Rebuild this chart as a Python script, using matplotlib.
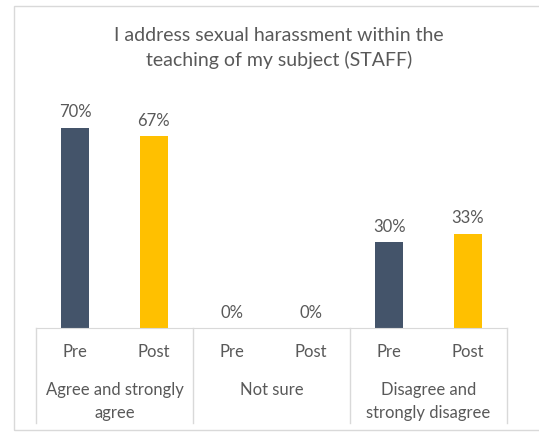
import matplotlib
matplotlib.use("Agg")
import matplotlib.pyplot as plt
from matplotlib.patches import Rectangle
from matplotlib.lines import Line2D
import matplotlib.transforms as mtransforms

# Survey responses, grouped by answer, split into pre/post
groups = ["Agree and strongly\nagree", "Not sure", "Disagree and\nstrongly disagree"]
phases = ["Pre", "Post"]
pre_vals = [0.70, 0.00, 0.30]
post_vals = [0.67, 0.00, 0.33]

TEXT = "#595959"
GRID = "#D9D9D9"
PRE_COLOR = "#44546A"
POST_COLOR = "#FFC000"

plt.rcParams["font.family"] = ["Lato", "DejaVu Sans"]

W, H = 539, 432
fig = plt.figure(figsize=(W / 100, H / 100), dpi=100)

# outer chart frame
fig.add_artist(Rectangle((14 / W, 1 - 430 / H), 1.0, (430 - 6) / H,
                         transform=fig.transFigure, fill=False,
                         edgecolor=GRID, lw=1.0))

base_px = 328
ax = fig.add_axes([36 / W, 1 - base_px / H, (507 - 36) / W, 229 / H])
ax.set_xlim(-0.5, 2.5)
ax.set_ylim(0, 0.80)

off, bw = 0.25, 0.18
xs = list(range(len(groups)))
bars_pre = ax.bar([x - off for x in xs], pre_vals, bw, color=PRE_COLOR)
bars_post = ax.bar([x + off for x in xs], post_vals, bw, color=POST_COLOR)

for bars, vals in ((bars_pre, pre_vals), (bars_post, post_vals)):
    for b, v in zip(bars, vals):
        ax.annotate(f"{v:.0%}", (b.get_x() + b.get_width() / 2, v),
                    xytext=(0, 11), textcoords="offset points",
                    ha="center", va="center", fontsize=12, color=TEXT)

for s in ("top", "right", "left"):
    ax.spines[s].set_visible(False)
ax.spines["bottom"].set_color(GRID)
ax.set_xticks([])
ax.set_yticks([])

# two-level category axis below the bars
tr = mtransforms.blended_transform_factory(ax.transData, fig.transFigure)
y_top = 1 - base_px / H
y_bot = 1 - 423 / H
for xv in [-0.5, 0.5, 1.5, 2.5]:
    fig.add_artist(Line2D([xv, xv], [y_top, y_bot], transform=tr,
                          color=GRID, lw=1.0))

for x in xs:
    for dx, p in zip((-off, off), phases):
        fig.text(x + dx, 1 - 352 / H, p, transform=tr, ha="center",
                 va="center", fontsize=12, color=TEXT)
    fig.text(x, 1 - 382 / H, groups[x], transform=tr, ha="center",
             va="top", fontsize=12, color=TEXT, linespacing=1.55)

fig.text(279 / W, 1 - 48 / H,
         "I address sexual harassment within the\nteaching of my subject (STAFF)",
         ha="center", va="center", fontsize=14, color=TEXT, linespacing=1.5)

fig.savefig("out.png", dpi=100)
